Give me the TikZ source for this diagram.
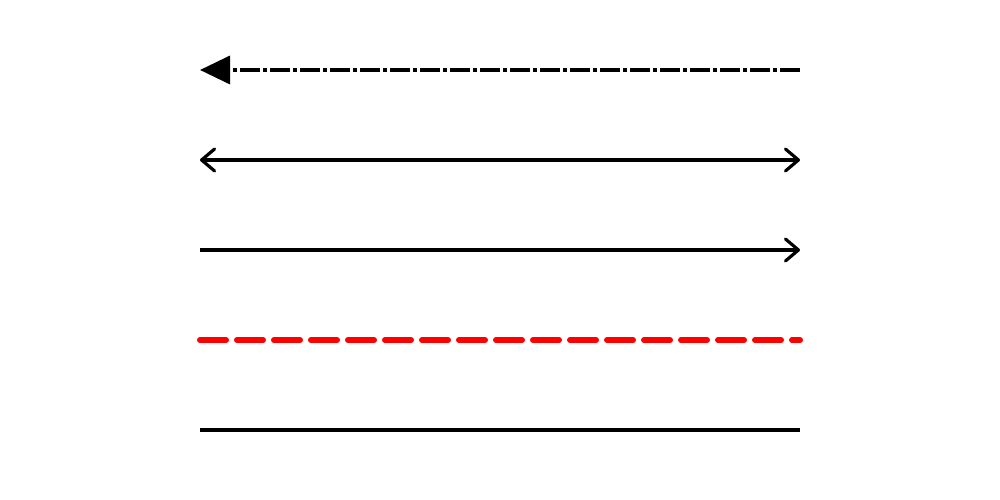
\documentclass[tikz,border=0pt]{standalone}
\usetikzlibrary{positioning,arrows.meta}
\tikzset{
	>={Straight Barb[length=1.3mm,width=2.2mm,line cap=round,line join=round]}
}
\begin{document}
\begin{tikzpicture}[
	line/.style = {
		line width = 0.9pt
	},
	dashdot/.style = {
		line width = 1pt,
		dash pattern = on 2mm off 0.3mm on 0.4mm off 0.3mm
	},
	reddash/.style = {
		line width = 1.7pt,
		red,
		line cap = round,
		dash pattern = on 2.6mm off 1.1mm
	}
	]
	\useasboundingbox (0,0) rectangle (10,5);
	
	\coordinate (a1) at (2,4.3);
	\coordinate[right = 6cm of a1] (b1);
	\coordinate[below = 9mm of a1] (a2);
	\coordinate[right = 6cm of a2] (b2);
	\coordinate[below = 9mm of a2] (a3);
	\coordinate[right = 6cm of a3] (b3);
	\coordinate[below = 9mm of a3] (a4);
	\coordinate[right = 6cm of a4] (b4);
	\coordinate[below = 9mm of a4] (a5);
	\coordinate[right = 6cm of a5] (b5);
	
	\draw[dashdot, -{Triangle[length=3mm,width=2.8mm]}] (b1) -- (a1);
	\draw[line, <->] (a2) -- (b2);
	\draw[line, ->] (a3) -- (b3);
	\draw[reddash] (a4) -- (b4);
	\draw[line] (a5) -- (b5);
	
\end{tikzpicture}
\end{document}
